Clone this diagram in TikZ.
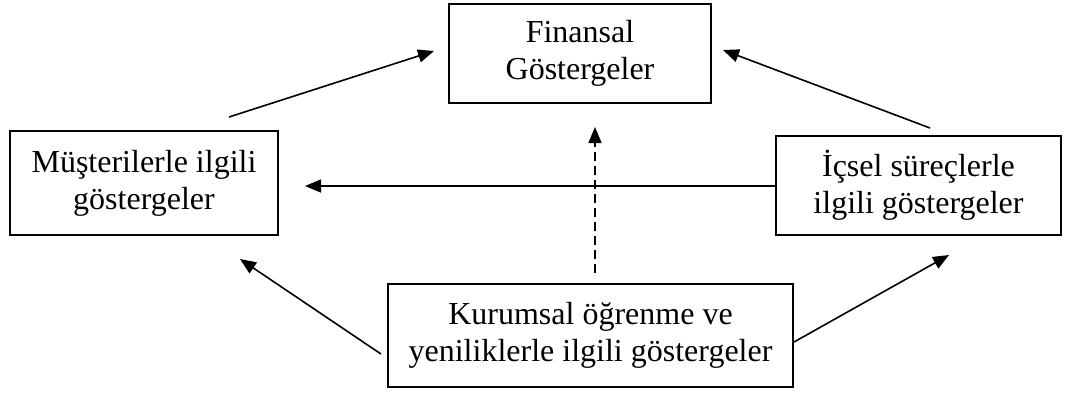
\documentclass[tikz,border=0pt]{standalone}
\usepackage{fontspec}
\setmainfont{Liberation Serif}
\usetikzlibrary{arrows.meta}
\begin{document}
\begin{tikzpicture}[x=1pt,y=-1pt,
  box/.style={draw,line width=1.7pt,align=center,inner sep=0pt,font=\fontsize{32}{37}\selectfont},
  arr/.style={line width=1.6pt,-{Triangle[length=16pt,width=13pt]}}]
\useasboundingbox (0,0) rectangle (1067,392);
\node[box,minimum width=262pt,minimum height=99pt] (fin) at (580,53.5) {Finansal\\Göstergeler};
\node[box,minimum width=268pt,minimum height=104pt] (mus) at (144,183) {Müşterilerle ilgili\\göstergeler};
\node[box,minimum width=285pt,minimum height=99pt] (ics) at (918.5,185.5) {İçsel süreçlerle\\ilgili göstergeler};
\node[box,minimum width=405pt,minimum height=103pt] (kur) at (590.5,335.5) {Kurumsal öğrenme ve\\yeniliklerle ilgili göstergeler};
\coordinate (musout) at (229,117);
\coordinate (finin1) at (434,51);
\coordinate (icsout) at (930,128);
\coordinate (finin2) at (723,50);
\coordinate (musin1) at (305,186);
\coordinate (finin3) at (595,127);
\coordinate (kurout) at (595,273);
\coordinate (kurl) at (381,354);
\coordinate (musin2) at (240,259);
\coordinate (kurr) at (794,342);
\coordinate (icsin) at (949,255);
\draw[arr] (musout) -- (finin1);
\draw[arr] (icsout) -- (finin2);
\draw[arr] (ics.west |- musin1) -- (musin1);
\draw[arr,dash pattern=on 9pt off 5pt] (kurout) -- (finin3);
\draw[arr] (kurl) -- (musin2);
\draw[arr] (kurr) -- (icsin);
\end{tikzpicture}
\end{document}
